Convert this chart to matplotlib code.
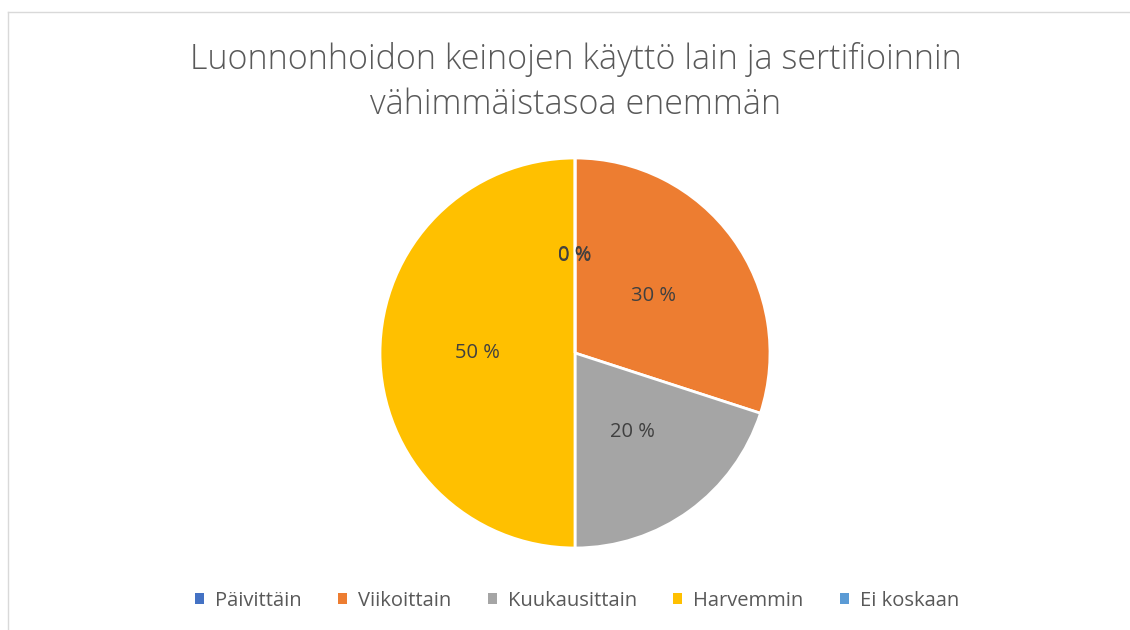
import matplotlib.pyplot as plt
from matplotlib.patches import Patch
from matplotlib.lines import Line2D

plt.rcParams['font.family'] = ['Open Sans', 'DejaVu Sans']

# data
categories = ["Päivittäin", "Viikoittain", "Kuukausittain", "Harvemmin", "Ei koskaan"]
shares = [0, 30, 20, 50, 0]
colors = ["#4472C4", "#ED7D31", "#A5A5A5", "#FFC000", "#5B9BD5"]
title = "Luonnonhoidon keinojen käyttö lain ja sertifioinnin\nvähimmäistasoa enemmän"

fig = plt.figure(figsize=(11.3, 6.3), dpi=100)

# light frame of the chart area (cropped on right/bottom)
fig.add_artist(Line2D([8 / 1130, 8 / 1130], [0, 1 - 12 / 630], color="#D9D9D9", lw=1))
fig.add_artist(Line2D([8 / 1130, 1], [1 - 12 / 630, 1 - 12 / 630], color="#D9D9D9", lw=1))

ax = fig.add_axes([380 / 1130, (630 - 353 - 195) / 630, 390 / 1130, 390 / 630])
wedges, texts, autotexts = ax.pie(
    shares, colors=colors, startangle=90, counterclock=False,
    autopct=lambda p: f"{p:.0f} %", pctdistance=0.5,
    wedgeprops=dict(edgecolor="white", linewidth=2),
    textprops=dict(color="#404040", fontsize=14.5),
)
ax.set_xlim(-1.0, 1.0)
ax.set_ylim(-1.0, 1.0)
ax.set_aspect("equal")

fig.text(576 / 1130, 1 - 82 / 630, title, ha="center", va="center",
         fontsize=24.5, color="#595959", linespacing=1.37, fontweight="light")

handles = [Patch(facecolor=c, edgecolor="none") for c in colors]
fig.legend(handles, categories, loc="center", bbox_to_anchor=(577 / 1130, 1 - 601 / 630),
           ncol=5, frameon=False, fontsize=14.5, labelcolor="#595959",
           handlelength=0.45, handleheight=0.45, handletextpad=0.55, columnspacing=1.8)

fig.savefig("out.png", dpi=100)
